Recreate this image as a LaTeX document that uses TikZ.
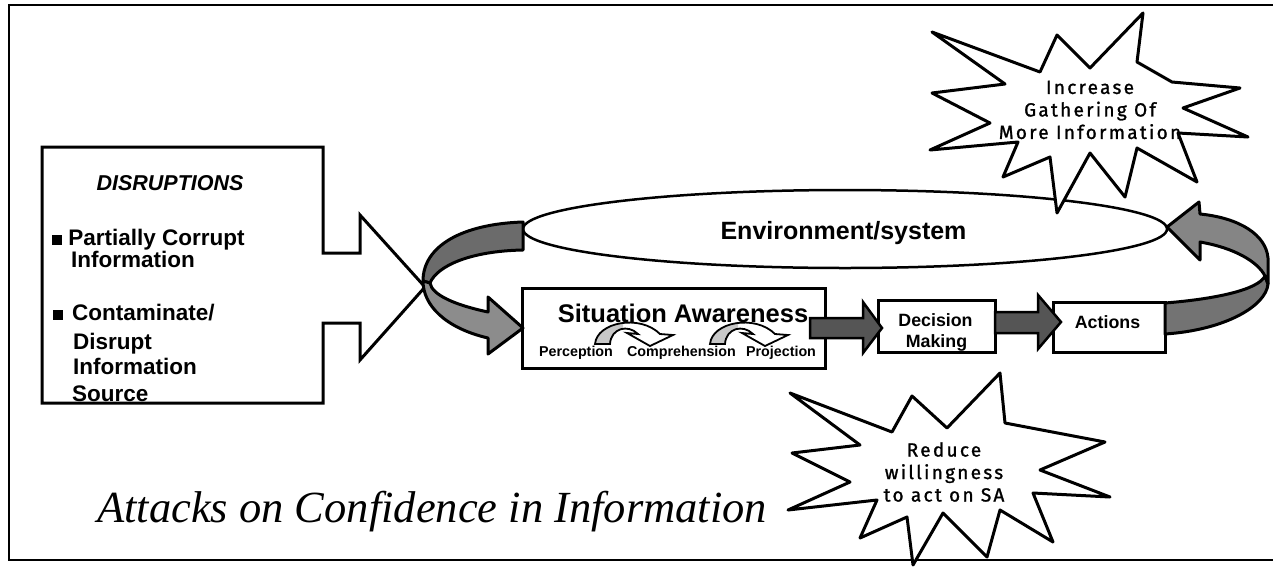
\documentclass[tikz,border=0pt]{standalone}
\usepackage{fontspec}
\usetikzlibrary{shapes.geometric}
\newfontfamily\arialf{Liberation Sans}
\newfontfamily\timesf{Liberation Serif}
\newfontfamily\handf[LetterSpace=12,FakeBold=1.2]{Fira Sans}
\newcommand\fsz[2]{\fontsize{#1}{#2}\selectfont}

\definecolor{blockgray}{HTML}{555555}
\definecolor{banddark}{HTML}{6B6B6B}
\definecolor{bandlight}{HTML}{8C8C8C}
\definecolor{banddarkR}{HTML}{737373}
\definecolor{bandlightR}{HTML}{858585}
\definecolor{arcgray}{HTML}{C8C8C8}

\tikzset{
  box/.style={draw, line width=3pt, fill=white, inner sep=0pt},
  itemtxt/.style={anchor=base west, inner sep=0pt, font=\arialf\bfseries\fsz{22.5}{22.5}},
  blockarrow/.style={draw, line width=2.5pt, fill=blockgray, line join=miter},
  band/.style={draw, line width=3pt, line join=round},
  burst/.style={draw, line width=3pt, fill=white, line join=round},
  bursttxt/.style={align=center, inner sep=0pt, font=\handf\fsz{19}{22.5}},
}

% small curved arrow inside the situation awareness box, foot at (#1,344)
\def\arcpath{(0,0) .. controls (2,-22) and (45,-30) .. (65,-10) -- (78,-9) -- (55,2) -- (32,-11) -- (43,-10) .. controls (33,-20) and (16,-16) .. (15,0) -- cycle}
\newcommand\arcarrow[1]{%
  \begin{scope}[shift={(#1,344)}]
    \fill[white] \arcpath;
    \begin{scope}
      \clip (-5,-40) rectangle (28,8);
      \fill[arcgray] \arcpath;
    \end{scope}
    \draw[line width=1.8pt, line join=miter] \arcpath;
  \end{scope}}

\begin{document}
\begin{tikzpicture}[x=1pt,y=-1pt]
\useasboundingbox (0,0) rectangle (1273,571);

% outer frame
\draw[line width=2pt] (9,5) rectangle (1290,560);

% disruptions callout
\draw[line width=3pt, fill=white, line join=miter]
  (42,147) -- (323,147) -- (323,253) -- (360,253) -- (360,215) -- (425,287)
  -- (360,360) -- (360,323) -- (323,323) -- (323,403) -- (42,403) -- cycle;
\node[anchor=base, inner sep=0pt, font=\arialf\bfseries\itshape\fsz{21.5}{21.5}] (dhead) at (170,190) {DISRUPTIONS};
\node[itemtxt] (d1) at (52,245) {\rule{10pt}{10pt} Partially Corrupt};
\node[itemtxt] (d2) at (71,267) {Information};
\node[itemtxt] (d3) at (53,320) {\rule{10pt}{10pt}};
\node[itemtxt] (d4) at (72,320) {Contaminate/};
\node[itemtxt] (d5) at (73,349) {Disrupt};
\node[itemtxt] (d6) at (73,374) {Information};
\node[itemtxt] (d7) at (72,401) {Source};

% environment
\node[ellipse, draw, line width=2.5pt, fill=white, minimum width=644pt, minimum height=78pt, inner sep=0pt] (env) at (845,229) {};
\node[anchor=base, inner sep=0pt, font=\arialf\bfseries\fsz{25}{25}] (envtxt) at (843.5,239) {Environment/system};

% situation awareness box
\node[box, minimum width=303pt, minimum height=80pt] (sa) at (673.5,328) {};
\arcarrow{595}
\arcarrow{710}
\node[anchor=base, inner sep=0pt, font=\arialf\bfseries\fsz{25.5}{25.5}] (satitle) at (683,322) {Situation Awareness};
\node[anchor=base, inner sep=0pt, font=\arialf\bfseries\fsz{14.3}{14.3}] (perc) at (576,356) {Perception};
\node[anchor=base, inner sep=0pt, font=\arialf\bfseries\fsz{14.3}{14.3}] (comp) at (681.5,356) {Comprehension};
\node[anchor=base, inner sep=0pt, font=\arialf\bfseries\fsz{14.3}{14.3}] (proj) at (781,356) {Projection};

% decision and action boxes
\node[box, minimum width=117pt, minimum height=52pt] (dm) at (936.5,326) {};
\node[anchor=base, inner sep=0pt, font=\arialf\bfseries\fsz{17.8}{17.8}] (dm1) at (935.5,326) {Decision};
\node[anchor=base, inner sep=0pt, font=\arialf\bfseries\fsz{17.8}{17.8}] (dm2) at (936.5,347) {Making};
\node[box, minimum width=112pt, minimum height=50pt] (act) at (1109,327) {};
\node[anchor=base, inner sep=0pt, font=\arialf\bfseries\fsz{17.8}{17.8}] (acttxt) at (1107.5,328) {Actions};

% block arrows between the boxes
\draw[blockarrow] (810,318) -- (863,318) -- (863,302) -- (882,328) -- (863,353) -- (863,338) -- (810,338) -- cycle;
\draw[blockarrow] (995,312) -- (1038,312) -- (1038,295) -- (1061,322) -- (1038,349) -- (1038,333) -- (995,333) -- cycle;

% curved arrow from the environment into situation awareness
\draw[band, fill=banddark] (523,222) .. controls (462,224) and (423,246) .. (423,281)
  -- (430,283) .. controls (437,266) and (470,251) .. (523,250) -- cycle;
\draw[band, fill=bandlight] (423,281) .. controls (423,305) and (445,328) .. (488,338)
  -- (488,354) -- (523,328) -- (488,297) -- (488,312)
  .. controls (455,305) and (432,295) .. (430,283) -- cycle;

% curved arrow from actions back to the environment
\draw[band, fill=banddarkR] (1165,303) .. controls (1215,299) and (1258,290) .. (1265,276)
  -- (1268,284) .. controls (1266,306) and (1225,330) .. (1165,334) -- cycle;
\draw[band, fill=bandlightR] (1265,276) -- (1268,284) -- (1268,258)
  .. controls (1266,235) and (1240,218) .. (1200,214) -- (1199,202) -- (1167,227)
  -- (1200,260) -- (1200,242) .. controls (1235,248) and (1258,262) .. (1265,276) -- cycle;

% starburst: gathering information
\draw[burst] (932,32) -- (1040,72) -- (1057,35) -- (1090,68) -- (1143,13) -- (1137,62)
  -- (1172,82) -- (1240,88) -- (1183,108) -- (1248,137) -- (1178,133) -- (1197,182)
  -- (1137,148) -- (1125,197) -- (1090,153) -- (1057,213) -- (1050,157) -- (1003,177)
  -- (1018,142) -- (930,150) -- (990,123) -- (932,93) -- (1005,84) -- cycle;
\node[bursttxt] (gather) at (1090,110) {Increase\\Gathering Of\\More Information};

% starburst: willingness to act
\draw[burst] (790,393) -- (892,432) -- (912,396) -- (947,428) -- (1000,373) -- (1005,423)
  -- (1105,442) -- (1040,470) -- (1110,497) -- (1033,493) -- (1053,542) -- (1000,510)
  -- (987,557) -- (943,513) -- (913,565) -- (907,517) -- (860,538) -- (877,500)
  -- (788,510) -- (850,482) -- (792,453) -- (860,445) -- cycle;
\node[bursttxt] (reduce) at (944,472) {Reduce\\willingness\\to act on SA};

% caption
\node[anchor=base west, inner sep=0pt, font=\timesf\itshape\fsz{44.5}{44.5}] (attacks) at (97,522) {Attacks on Confidence in Information};
\end{tikzpicture}
\end{document}
